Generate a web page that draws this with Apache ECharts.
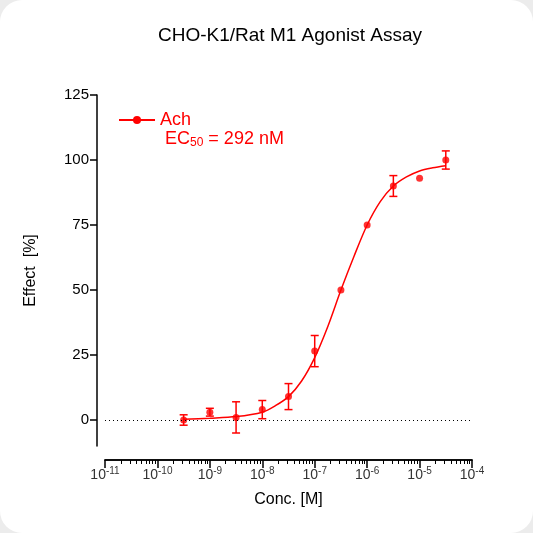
<!DOCTYPE html><html><head><meta charset="utf-8">
<script src="https://cdn.jsdelivr.net/npm/echarts@6/dist/echarts.min.js"></script>
<style>html,body{margin:0;background:#ececec}#c{width:533px;height:533px;background:#fff;border-radius:22px}</style>
</head><body><div id="c"></div><script>
const logConc=[-9.5,-9,-8.5,-8,-7.5,-7,-6.5,-6,-5.5,-5,-4.5];
const effect=[0,3,1,4,9,26.5,50,75,90,93,100];
const errs=[2,1.5,6,3.5,5,6,0,0,4,0,3.5];
const curveX=[-9.5,-9,-8.5,-8,-7.75,-7.5,-7.25,-7,-6.75,-6.5,-6.25,-6,-5.75,-5.5,-5.25,-5,-4.75,-4.5];
const curveY=[0.3,0.7,1.3,3,5.5,9,15,24,36,50,63,75,84,90,93.5,95.8,97,97.8];
const yTicks=[0,25,50,75,100,125];
const xTicks=[-11,-10,-9,-8,-7,-6,-5,-4];
const minorX=[];for(let d=-11;d<-4;d++)for(let k=2;k<=9;k++)minorX.push(d+Math.log10(k));
const red='#ff0000';
const ch=echarts.init(document.getElementById('c'));
const xBase={type:'value',min:-11,max:-4,position:'bottom',offset:14,splitLine:{show:false},
 axisLine:{onZero:false,lineStyle:{color:'#000',width:1.5}}};
ch.setOption({
 animation:false,
 title:{text:'CHO-K1/Rat M1 Agonist Assay',left:285,top:21,textAlign:'center',textStyle:{fontFamily:'Liberation Sans',fontWeight:'normal',fontSize:19,color:'#000'}},
 grid:{left:105,right:61,top:95,bottom:87},
 xAxis:[Object.assign({},xBase,{name:'Conc. [M]',nameLocation:'middle',nameGap:32,nameTextStyle:{fontFamily:'Liberation Sans',fontSize:16,color:'#000'},
   axisTick:{customValues:xTicks,length:8,lineStyle:{color:'#000',width:1.5}},
   axisLabel:{customValues:xTicks,margin:6,formatter:v=>'{b|10}{s|'+v+'}',rich:{b:{fontSize:14,color:'#333',fontFamily:'Liberation Sans'},s:{fontSize:10,color:'#333',fontFamily:'Liberation Sans',padding:[0,0,8,0]}}}}),
  Object.assign({},xBase,{axisTick:{customValues:minorX,length:4,lineStyle:{color:'#000',width:1}},axisLabel:{show:false}})],
 yAxis:{type:'value',min:-10,max:125,offset:8,splitLine:{show:false},
  name:'Effect  [%]',nameLocation:'middle',nameGap:58,nameTextStyle:{fontFamily:'Liberation Sans',fontSize:16,color:'#000'},
  axisLine:{show:true,onZero:false,lineStyle:{color:'#000',width:1.5}},
  axisTick:{customValues:yTicks,length:7,lineStyle:{color:'#000',width:1.5}},
  axisLabel:{customValues:yTicks,color:'#000',fontFamily:'Liberation Sans',fontSize:15}},
 legend:{left:113,top:106,itemWidth:36,itemHeight:10,data:['Ach'],textStyle:{color:red,fontFamily:'Liberation Sans',fontSize:18}},
 graphic:[{type:'text',left:165,top:130,style:{text:'{a|EC}{s|50}{a| = 292 nM}',rich:{a:{fontSize:18,fill:red,fontFamily:'Liberation Sans'},s:{fontSize:12,fill:red,fontFamily:'Liberation Sans',padding:[8,0,0,0]}}}}],
 series:[
  {name:'Ach',type:'line',data:curveX.map((x,i)=>[x,curveY[i]]),smooth:0.3,symbol:'circle',showSymbol:false,lineStyle:{color:red,width:1.5},itemStyle:{color:red},
   markLine:{silent:true,symbol:'none',label:{show:false},lineStyle:{color:'#000',type:[1,3],width:1},data:[{yAxis:0}]}},
  {type:'scatter',data:logConc.map((x,i)=>[x,effect[i]]),symbolSize:7,itemStyle:{color:red}},
  {type:'custom',data:logConc.map((x,i)=>[x,effect[i]-errs[i],effect[i]+errs[i]]),
   renderItem:(p,api)=>{if(api.value(2)-api.value(1)<0.1)return null;const a=api.coord([api.value(0),api.value(1)]),b=api.coord([api.value(0),api.value(2)]);const s={stroke:red,lineWidth:1.5};
    return {type:'group',children:[{type:'line',shape:{x1:a[0],y1:a[1],x2:b[0],y2:b[1]},style:s},{type:'line',shape:{x1:a[0]-4,y1:a[1],x2:a[0]+4,y2:a[1]},style:s},{type:'line',shape:{x1:b[0]-4,y1:b[1],x2:b[0]+4,y2:b[1]},style:s}]};}}
 ]});
</script></body></html>
